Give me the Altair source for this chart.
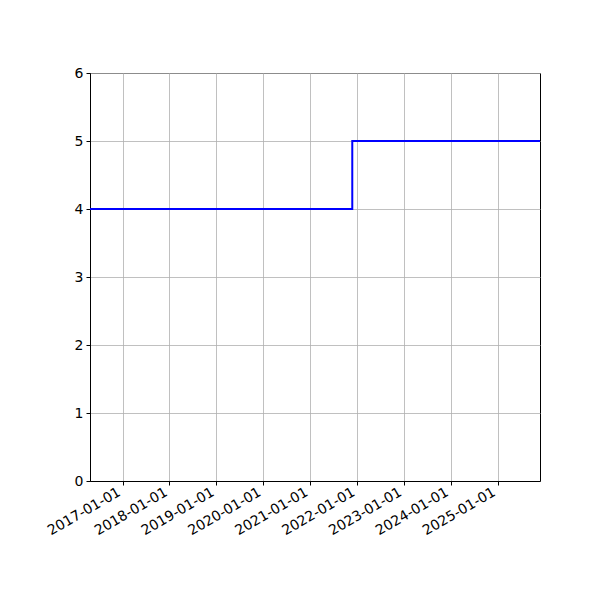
import altair as alt
import pandas as pd

dates = ["2016-04-22", "2021-11-26", "2025-11-28"]
values = [4, 5, 5]
year_ticks = ["2017-01-01", "2018-01-01", "2019-01-01", "2020-01-01", "2021-01-01",
              "2022-01-01", "2023-01-01", "2024-01-01", "2025-01-01"]

df = pd.DataFrame({"date": pd.to_datetime(dates), "value": values})

tick_vals = [alt.DateTime(year=int(t[:4]), month=1, date=1) for t in year_ticks]

chart = alt.Chart(df).mark_line(
    interpolate="step-after", color="#0000ff", strokeWidth=2, clip=True
).encode(
    x=alt.X("date:T",
            scale=alt.Scale(domain=[alt.DateTime(year=2016, month=4, date=22),
                                    alt.DateTime(year=2025, month=11, date=28)],
                            nice=False),
            axis=alt.Axis(values=tick_vals, format="%Y-%m-%d", labelAngle=-30,
                          labelAlign="right", labelBaseline="bottom", title=None,
                          labelPadding=12, labelOverlap=False, labelBound=False)),
    y=alt.Y("value:Q",
            scale=alt.Scale(domain=[0, 6], nice=False),
            axis=alt.Axis(values=[0, 1, 2, 3, 4, 5, 6], title=None, labelPadding=3)),
).properties(
    width=450, height=408,
    padding={"left": 37, "top": 58, "right": 5, "bottom": 5},
).configure_axis(
    grid=True, gridColor="#b0b0b0", gridWidth=0.8, gridOpacity=1,
    domainColor="black", domainWidth=1, tickColor="black", tickSize=4, tickWidth=1,
    labelFont="DejaVu Sans", labelFontSize=14, labelColor="black",
).configure_view(
    stroke="black", strokeWidth=1
)

chart.save("out.html", embed_options={"renderer": "svg", "actions": False})
